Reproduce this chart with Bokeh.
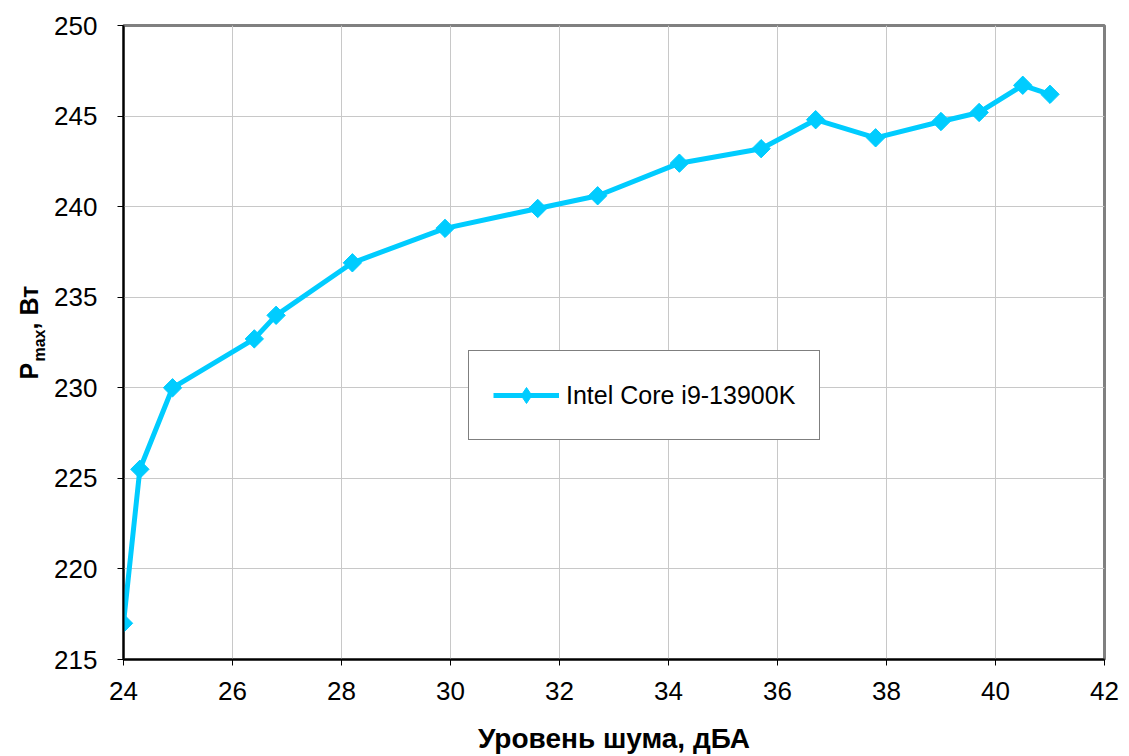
from bokeh.plotting import figure
from bokeh.layouts import row
from bokeh.models import Range1d, FixedTicker, Legend, LegendItem, Label
from bokeh.embed import file_html
from bokeh.resources import INLINE
import math

noise_dba = [24.0, 24.3, 24.9, 26.4, 26.8, 28.2, 29.9, 31.6, 32.7, 34.2, 35.7, 36.7, 37.8, 39.0, 39.7, 40.5, 41.0]
pmax_w = [217.0, 225.5, 230.0, 232.7, 234.0, 236.9, 238.8, 239.9, 240.6, 242.4, 243.2, 244.8, 243.8, 244.7, 245.2, 246.7, 246.2]
series_name = "Intel Core i9-13900K"
x_ticks = [24, 26, 28, 30, 32, 34, 36, 38, 40, 42]
y_ticks = [215, 220, 225, 230, 235, 240, 245, 250]

FONT = "Liberation Sans"
CYAN = "#00CCFF"
H = 756
TW = 48
FRAME_BOTTOM = 659  # page y of the plot frame's bottom edge

# narrow side figure holding the rotated y-axis title (with subscript)
t = figure(width=TW, height=H, output_backend="svg", toolbar_location=None,
           x_axis_type=None, y_axis_type=None, min_border=0,
           x_range=Range1d(0, 1), y_range=Range1d(0, 1))
t.outline_line_color = None
t.grid.visible = False
t.background_fill_color = "white"
t.border_fill_color = "white"
t.add_layout(Label(x=28, y=FRAME_BOTTOM - 379, x_units="screen", y_units="screen", text="P",
                   angle=math.pi / 2, text_align="left", text_baseline="middle",
                   text_font=FONT, text_font_style="bold", text_font_size="25px",
                   text_color="black"))
t.add_layout(Label(x=39, y=FRAME_BOTTOM - 361, x_units="screen", y_units="screen", text="max",
                   angle=math.pi / 2, text_align="left", text_baseline="middle",
                   text_font=FONT, text_font_style="bold", text_font_size="16px",
                   text_color="black"))
t.add_layout(Label(x=28, y=FRAME_BOTTOM - 329, x_units="screen", y_units="screen", text=", Вт",
                   angle=math.pi / 2, text_align="left", text_baseline="middle",
                   text_font=FONT, text_font_style="bold", text_font_size="25px",
                   text_color="black"))

p = figure(width=1121 - TW, height=H, output_backend="svg", toolbar_location=None,
           x_range=Range1d(24, 42), y_range=Range1d(215, 250),
           min_border_left=123 - TW, min_border_right=17, min_border_top=25,
           min_border_bottom=H - FRAME_BOTTOM)
p.background_fill_color = "white"
p.border_fill_color = "white"
p.outline_line_color = "#808080"
p.outline_line_width = 3

for ax in (p.xaxis[0], p.yaxis[0]):
    ax.axis_line_color = "black"
    ax.axis_line_width = 2
    ax.major_tick_line_color = "black"
    ax.major_tick_line_width = 1
    ax.major_tick_out = 6
    ax.major_tick_in = 0
    ax.minor_tick_line_color = None
    ax.major_label_text_font = FONT
    ax.major_label_text_font_size = "26px"
    ax.major_label_text_color = "black"

p.xaxis[0].ticker = FixedTicker(ticks=x_ticks)
p.yaxis[0].ticker = FixedTicker(ticks=y_ticks)
p.xaxis[0].major_label_standoff = 16
p.yaxis[0].major_label_standoff = 20
p.xaxis[0].axis_label = "Уровень шума, дБА"
p.xaxis[0].axis_label_text_font = FONT
p.xaxis[0].axis_label_text_font_style = "bold"
p.xaxis[0].axis_label_text_font_size = "28px"
p.xaxis[0].axis_label_text_color = "black"
p.xaxis[0].axis_label_standoff = 20

p.grid.grid_line_color = "#c8c8c8"
p.grid.grid_line_width = 1
p.xgrid[0].ticker = FixedTicker(ticks=x_ticks)
p.ygrid[0].ticker = FixedTicker(ticks=y_ticks)

ln = p.line(noise_dba, pmax_w, line_color=CYAN, line_width=5)
# diamond renderer (hidden under the rotated squares) used for the legend swatch
legend_mk = p.scatter(noise_dba, pmax_w, marker="diamond", size=17,
                      fill_color=CYAN, line_color=CYAN)
mk = p.scatter(noise_dba, pmax_w, marker="square", size=13, angle=math.pi / 4,
               fill_color=CYAN, line_color=CYAN)

legend = Legend(items=[LegendItem(label=series_name, renderers=[ln, legend_mk])],
                location=(345, 219), padding=24, margin=0,
                glyph_width=66, glyph_height=40, label_standoff=7,
                label_text_font=FONT, label_text_font_size="25px",
                label_text_color="black",
                border_line_color="black", border_line_width=1,
                background_fill_color="white", background_fill_alpha=1.0)
p.add_layout(legend, "center")

layout = row(t, p)
open("out.html", "w").write(file_html(layout, INLINE))
